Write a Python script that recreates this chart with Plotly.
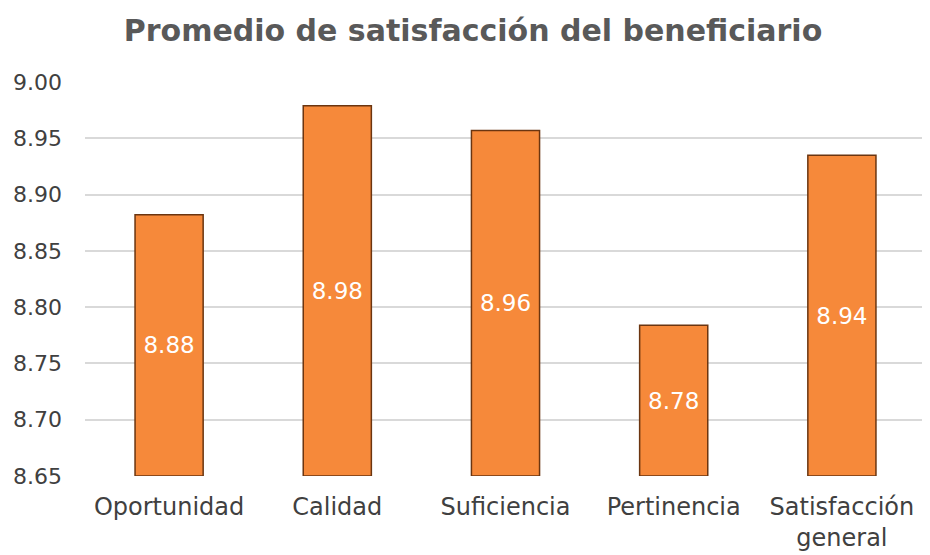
import plotly.graph_objects as go

categorias = ['Oportunidad', 'Calidad', 'Suficiencia', 'Pertinencia', 'Satisfacción<br>general']
promedios = [8.882, 8.979, 8.957, 8.784, 8.935]
ticks_y = [8.65, 8.70, 8.75, 8.80, 8.85, 8.90, 8.95, 9.00]

fig = go.Figure()
fig.add_trace(go.Bar(
    x=categorias, y=[v - 8.65 for v in promedios], base=8.65,
    marker=dict(color='#F6893A', line=dict(color='#6B3510', width=1.5)),
    width=0.405,
    text=[f"{v:.2f}" for v in promedios],
    textposition='inside', insidetextanchor='middle',
    textfont=dict(color='white', size=23, family='DejaVu Sans, sans-serif'),
    cliponaxis=False,
))

fig.update_layout(
    width=930, height=555,
    paper_bgcolor='white', plot_bgcolor='white',
    margin=dict(l=77, r=12, t=74, b=87),
    title=dict(text='<b>Promedio de satisfacción del beneficiario</b>',
               x=0.5, xanchor='center', y=0.96, yanchor='middle',
               font=dict(size=30, color='#595959', family='DejaVu Sans, sans-serif')),
    showlegend=False,
    bargap=0.6,
)
fig.update_yaxes(
    range=[8.65, 9.0], tickvals=ticks_y, tickformat='.2f',
    showgrid=True, gridcolor='#D9D9D9', gridwidth=2, zeroline=False,
    showline=False, ticks='', ticklabelstandoff=22, automargin=False,
    tickfont=dict(size=22, color='#404040', family='DejaVu Sans, sans-serif'),
)
fig.update_xaxes(
    showgrid=False, showline=False, ticks='', automargin=False, ticklabelstandoff=14,
    tickfont=dict(size=24, color='#404040', family='DejaVu Sans, sans-serif'),
)

fig.write_html("out.html")
